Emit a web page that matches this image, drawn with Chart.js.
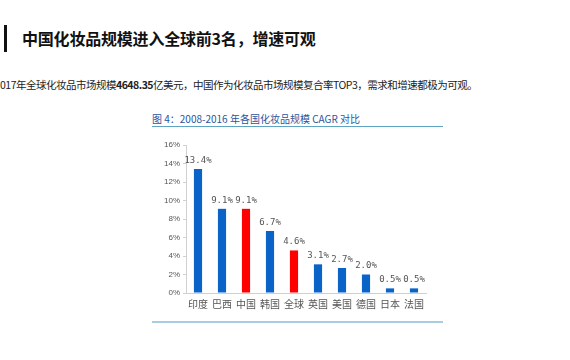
<!DOCTYPE html>
<html>
<head>
<meta charset="utf-8">
<script src="https://cdn.jsdelivr.net/npm/chart.js@4/dist/chart.umd.min.js"></script>
<style>
  html, body { margin:0; padding:0; background:#fff; width:570px; height:360px; overflow:hidden; position:relative; font-family:"Noto Sans CJK SC", sans-serif; }
  #bar { position:absolute; left:4px; top:25px; width:3px; height:27px; background:#111; }
  #title { position:absolute; left:22px; top:27px; font-size:16px; font-weight:700; color:#111; line-height:22px; white-space:nowrap; letter-spacing:-0.2px; }
  #sub { position:absolute; left:0px; top:77px; font-size:10.5px; color:#222; line-height:16px; white-space:nowrap; letter-spacing:-0.5px; }
  #sub b { font-weight:700; }
  #cap { position:absolute; left:152px; top:112px; font-size:10px; color:#2a55a0; line-height:14px; white-space:nowrap; }
  #topline { position:absolute; left:152px; top:126px; width:291px; height:1px; background:#5fa3c3; }
  #botline { position:absolute; left:152px; top:321px; width:291px; height:2px; background:#a9cde0; }
  #wrap { position:absolute; left:140px; top:130px; width:300px; height:190px; }
</style>
</head>
<body>
<div id="bar"></div>
<div id="title">中国化妆品规模进入全球前3名，增速可观</div>
<div id="sub">017年全球化妆品市场规模<b>4648.35</b>亿美元，中国作为化妆品市场规模复合率TOP3，需求和增速都极为可观。</div>
<div id="cap">图 4：2008-2016 年各国化妆品规模 CAGR 对比</div>
<div id="topline"></div>
<div id="wrap"><canvas id="c" width="300" height="190"></canvas></div>
<div id="botline"></div>
<script>
const categories = ["印度","巴西","中国","韩国","全球","英国","美国","德国","日本","法国"];
const cagrValues = [13.4, 9.1, 9.1, 6.7, 4.6, 3.1, 2.7, 2.0, 0.5, 0.5];
const highlight = ["中国","全球"];
const yTicks = [0, 2, 4, 6, 8, 10, 12, 14, 16];

const blue = "#0a64c8", red = "#ff0000";
const barColors = categories.map(c => highlight.includes(c) ? red : blue);

const labelPlugin = {
  id: "valLabels",
  afterDatasetsDraw(chart) {
    const ctx = chart.ctx;
    const meta = chart.getDatasetMeta(0);
    ctx.save();
    ctx.font = "9px 'DejaVu Sans Mono', monospace";
    ctx.fillStyle = "#555";
    ctx.textAlign = "center";
    ctx.textBaseline = "bottom";
    meta.data.forEach((el, i) => {
      ctx.fillText(cagrValues[i].toFixed(1) + "%", el.x, el.y - 4);
    });
    ctx.restore();
  }
};

new Chart(document.getElementById("c"), {
  type: "bar",
  data: {
    labels: categories,
    datasets: [{
      data: cagrValues,
      backgroundColor: barColors,
      categoryPercentage: 1.0,
      barPercentage: 0.34
    }]
  },
  options: {
    responsive: false,
    animation: false,
    layout: { padding: { top: 15, right: 14, bottom: 3, left: 0 } },
    plugins: { legend: { display: false }, tooltip: { enabled: false } },
    scales: {
      x: {
        grid: { display: false, drawTicks: false },
        border: { color: "#d0d0d0" },
        ticks: { color: "#555", font: { size: 10, family: "'Noto Sans CJK SC'" }, padding: 5, maxRotation: 0, autoSkip: false },
        afterFit(s) { s.height = 24; }
      },
      y: {
        min: 0, max: 16,
        afterBuildTicks(s) { s.ticks = yTicks.map(v => ({ value: v })); },
        grid: { drawOnChartArea: false, drawTicks: true, tickLength: 3, color: "#d0d0d0" },
        border: { color: "#d0d0d0" },
        ticks: { color: "#555", font: { size: 8, family: "'Liberation Sans', Arial" }, padding: 3, callback: v => v + "%" },
        afterFit(s) { s.width = 46; }
      }
    }
  },
  plugins: [labelPlugin]
});
</script>
</body>
</html>
